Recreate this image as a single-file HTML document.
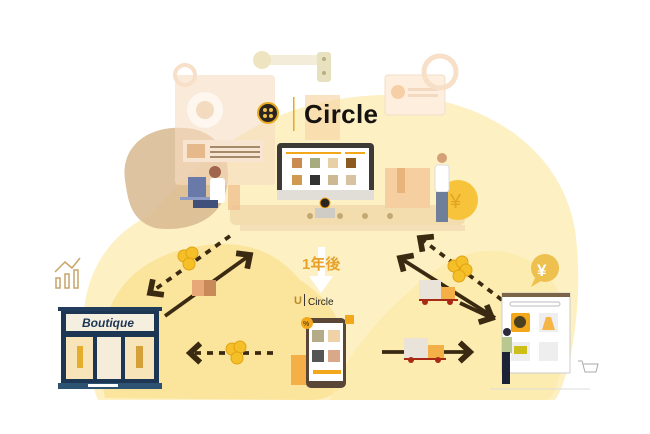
<!DOCTYPE html>
<html><head><meta charset="utf-8"><style>
html,body{margin:0;padding:0;background:#fff;width:650px;height:434px;overflow:hidden}
svg{display:block}
text{font-family:"Liberation Sans","Noto Sans CJK JP",sans-serif}
</style></head><body>
<svg width="650" height="434" viewBox="0 0 650 434" xmlns="http://www.w3.org/2000/svg">
<defs>
<marker id="ah" markerWidth="6" markerHeight="6" refX="3.2" refY="3" orient="auto" markerUnits="strokeWidth"><path d="M0.5,0.5 L3.2,3 L0.5,5.5" fill="none" stroke="#3b2a12" stroke-width="1.5"/></marker>
</defs>
<path d="M98,400 C70,330 78,250 150,215 C200,160 260,100 380,95 C470,92 560,140 575,230 C585,300 570,380 555,400 Z" fill="#fdf0c2"/>
<path d="M105,398 C90,330 110,270 180,250 C240,235 275,250 300,280 C330,300 345,320 345,360 C350,390 330,400 310,400 Z" fill="#fbe49c"/>
<path d="M330,400 C340,360 390,300 450,260 C520,230 575,280 565,340 C560,380 555,400 545,400 Z" fill="#fce9a8" opacity="0.7"/>
<path d="M125,180 C120,145 150,125 185,128 C220,130 235,160 225,195 C215,225 180,232 155,228 C130,220 128,200 125,180 Z" fill="#d8b88f" opacity="0.85"/>
<rect x="175" y="75" width="100" height="110" rx="4" fill="#f6dcc0" opacity="0.6"/>
<circle cx="205" cy="110" r="18" fill="#fff" opacity="0.6"/>
<circle cx="205" cy="110" r="9" fill="#f3dbc0"/>
<rect x="183" y="140" width="80" height="22" fill="#f7e5d2"/>
<rect x="187" y="144" width="18" height="14" fill="#e6b98a"/>
<rect x="210" y="146" width="50" height="2" fill="#a58a6a"/><rect x="210" y="151" width="50" height="2" fill="#a58a6a"/><rect x="210" y="156" width="50" height="2" fill="#a58a6a"/>
<rect x="385" y="75" width="60" height="40" rx="3" fill="#fdeedd" stroke="#f2dfca"/>
<circle cx="398" cy="92" r="7" fill="#f7cfa6"/>
<rect x="408" y="88" width="30" height="3" fill="#f3d9bf"/><rect x="408" y="94" width="30" height="3" fill="#f3d9bf"/>
<circle cx="440" cy="72" r="16" fill="none" stroke="#f7dfc8" stroke-width="5"/>
<circle cx="185" cy="75" r="10" fill="none" stroke="#f7dfc8" stroke-width="4"/>
<rect x="255" y="55" width="75" height="10" fill="#f3ecd8"/>
<circle cx="262" cy="60" r="9" fill="#efe4c0"/>
<rect x="317" y="52" width="14" height="30" rx="3" fill="#e8e1c0"/>
<circle cx="324" cy="59" r="2" fill="#b8ae80"/><circle cx="324" cy="73" r="2" fill="#b8ae80"/>
<rect x="305" y="95" width="35" height="45" fill="#f6d7a8" opacity="0.7"/>
<rect x="230" y="205" width="235" height="20" rx="6" fill="#f3dcae"/>
<rect x="240" y="225" width="225" height="6" fill="#f4dfb8"/>
<circle cx="310" cy="216" r="3" fill="#c4a874"/><circle cx="340" cy="216" r="3" fill="#c4a874"/><circle cx="365" cy="216" r="3" fill="#c4a874"/><circle cx="390" cy="216" r="3" fill="#c4a874"/>
<rect x="385" y="168" width="45" height="40" fill="#f5cf9f"/>
<rect x="397" y="168" width="8" height="25" fill="#e8b47c"/>
<circle cx="458" cy="200" r="20" fill="#f7c33a"/>
<text x="450" y="208" font-size="20" fill="#e3a41e">¥</text>
<rect x="277" y="143" width="97" height="55" rx="4" fill="#3d3a36"/>
<rect x="282" y="148" width="87" height="42" fill="#fff"/>
<rect x="286" y="152" width="55" height="2" fill="#f3a81c"/><rect x="345" y="152" width="20" height="2" fill="#f3a81c"/>
<g>
<rect x="292" y="158" width="10" height="10" fill="#c98b52"/><rect x="310" y="158" width="10" height="10" fill="#a6ac80"/><rect x="328" y="158" width="10" height="10" fill="#e7cfa8"/><rect x="346" y="158" width="10" height="10" fill="#8d5a22"/>
<rect x="292" y="175" width="10" height="10" fill="#d19a52"/><rect x="310" y="175" width="10" height="10" fill="#333"/><rect x="328" y="175" width="10" height="10" fill="#cdb893"/><rect x="346" y="175" width="10" height="10" fill="#d7c3a2"/>
</g>
<rect x="277" y="190" width="97" height="10" fill="#e1ddd7"/>
<circle cx="325" cy="203" r="5" fill="#2a2520" stroke="#f3a81c"/>
<rect x="315" y="208" width="20" height="10" fill="#cfccc6"/>
<rect x="188" y="177" width="18" height="20" fill="#6a7aa8"/>
<rect x="180" y="197" width="45" height="3" fill="#8e9bc4"/>
<rect x="210" y="178" width="15" height="25" rx="3" fill="#fff"/>
<circle cx="215" cy="172" r="6" fill="#a0654c"/>
<rect x="193" y="200" width="25" height="8" fill="#3f517a"/>
<rect x="228" y="185" width="12" height="25" fill="#f0c090" opacity="0.8"/>
<circle cx="442" cy="158" r="5" fill="#d4a078"/>
<rect x="435" y="165" width="14" height="27" rx="3" fill="#fff" stroke="#ddd"/>
<rect x="436" y="192" width="12" height="30" fill="#6f7f99"/>
<circle cx="268" cy="113" r="10" fill="#2a2520" stroke="#e8a91b" stroke-width="2"/>
<circle cx="265" cy="110" r="2" fill="#f1c04a"/><circle cx="271" cy="110" r="2" fill="#f1c04a"/><circle cx="265" cy="116" r="2" fill="#f1c04a"/><circle cx="271" cy="116" r="2" fill="#f1c04a"/>
<rect x="293" y="97" width="1.5" height="34" fill="#e8a91b"/>
<text x="304" y="123" font-size="26" font-weight="bold" fill="#161210" textLength="74">Circle</text>
<g stroke="#3b2a12" stroke-width="3.8" fill="none">
<line x1="230" y1="236" x2="150" y2="293" stroke-dasharray="6,6" marker-end="url(#ah)"/>
<line x1="165" y1="316" x2="250" y2="255" marker-end="url(#ah)"/>
<line x1="273" y1="353" x2="190" y2="353" stroke-dasharray="6,6" marker-end="url(#ah)"/>
<line x1="382" y1="352" x2="470" y2="352" marker-end="url(#ah)"/>
<line x1="495" y1="318" x2="400" y2="258" marker-end="url(#ah)"/>
<line x1="460" y1="303" x2="492" y2="318" marker-end="url(#ah)"/>
<line x1="502" y1="300" x2="420" y2="238" stroke-dasharray="6,6" marker-end="url(#ah)"/>
</g>
<g fill="#f5c027" stroke="#e2a214" stroke-width="1">
<circle cx="184" cy="256" r="6"/><circle cx="192" cy="253" r="6"/><circle cx="189" cy="264" r="6"/>
<circle cx="232" cy="349" r="6"/><circle cx="240" cy="347" r="6"/><circle cx="237" cy="358" r="6"/>
<circle cx="454" cy="266" r="6"/><circle cx="462" cy="262" r="6"/><circle cx="466" cy="270" r="6"/><circle cx="459" cy="276" r="6"/>
</g>
<rect x="192" y="280" width="24" height="16" fill="#e8a878"/><rect x="204" y="280" width="12" height="16" fill="#c98a5a"/>
<rect x="419" y="280" width="22" height="20" fill="#e9e3da"/><rect x="441" y="287" width="14" height="13" fill="#f4b046"/><rect x="419" y="299" width="39" height="2" fill="#a82a14"/>
<circle cx="425" cy="302" r="3" fill="#a82a14"/><circle cx="450" cy="302" r="3" fill="#a82a14"/>
<rect x="404" y="338" width="24" height="22" fill="#e9e3da"/><rect x="428" y="345" width="16" height="15" fill="#f4b046"/><rect x="404" y="358" width="42" height="2" fill="#a82a14"/>
<circle cx="411" cy="360" r="3" fill="#a82a14"/><circle cx="438" cy="360" r="3" fill="#a82a14"/>
<path d="M318,247 L325,247 L325,276 L333,276 L321,293 L309,276 L318,276 Z" fill="#fff"/>
<text x="302" y="269" font-size="15" font-weight="bold" fill="#e8a12a">1年後</text>
<text x="294" y="304" font-size="11" font-weight="bold" fill="#b88a2a">U</text>
<rect x="304" y="294" width="1" height="12" fill="#333"/>
<text x="308" y="305" font-size="10" fill="#222">Circle</text>
<rect x="291" y="355" width="18" height="30" fill="#f4b046"/>
<rect x="306" y="318" width="40" height="70" rx="5" fill="#5a4636"/>
<rect x="309" y="323" width="34" height="58" fill="#fff"/>
<rect x="312" y="330" width="12" height="12" fill="#b6ab88"/><rect x="328" y="330" width="12" height="12" fill="#f0d2a8"/>
<rect x="312" y="350" width="12" height="12" fill="#555"/><rect x="328" y="350" width="12" height="12" fill="#d8a888"/>
<rect x="313" y="370" width="28" height="4" fill="#f3a81c"/>
<circle cx="307" cy="323" r="6" fill="#f3a81c"/><text x="303" y="326" font-size="7" fill="#3a2a10">%</text>
<rect x="345" y="315" width="9" height="9" fill="#f3a81c"/>
<rect x="61" y="309" width="98" height="78" fill="#1d3654"/>
<rect x="58" y="307" width="104" height="4" fill="#223d5c"/>
<rect x="66" y="314" width="88" height="17" fill="#f5efe0"/>
<text x="82" y="327" font-size="12" font-style="italic" font-weight="bold" fill="#1d3654" font-family="Liberation Serif,serif">Boutique</text>
<rect x="66" y="337" width="27" height="42" fill="#f7e4b8"/><rect x="97" y="337" width="24" height="42" fill="#f5edda"/><rect x="125" y="337" width="29" height="42" fill="#f7e4b8"/>
<rect x="77" y="346" width="6" height="22" fill="#e4ae2c"/><rect x="136" y="346" width="7" height="22" fill="#d59f3a"/>
<rect x="58" y="383" width="104" height="6" fill="#2d5272"/>
<rect x="88" y="384" width="30" height="3" fill="#fff"/>
<g stroke="#c8a46a" fill="none" stroke-width="1.5"><rect x="56" y="278" width="4" height="10"/><rect x="65" y="274" width="4" height="14"/><rect x="74" y="270" width="4" height="18"/><path d="M55,272 L65,262 L72,268 L80,258"/></g>
<circle cx="545" cy="268" r="14" fill="#eec04e"/><path d="M535,278 L531,287 L541,281 Z" fill="#eec04e"/>
<text x="537" y="276" font-size="17" font-weight="bold" fill="#fff">¥</text>
<rect x="502" y="293" width="68" height="80" fill="#fff" stroke="#ccc"/>
<rect x="502" y="293" width="68" height="4" fill="#7a6548"/>
<rect x="510" y="302" width="50" height="4" rx="2" fill="#fff" stroke="#bbb"/>
<rect x="511" y="313" width="19" height="19" rx="2" fill="#f3a81c"/><circle cx="520" cy="322" r="6" fill="#4a4020"/>
<rect x="539" y="313" width="19" height="19" fill="#eee"/><path d="M546,317 L551,317 L555,330 L542,330 Z" fill="#f5b547"/>
<rect x="511" y="342" width="19" height="19" fill="#eee"/><rect x="514" y="346" width="13" height="8" fill="#cdbf18"/>
<rect x="539" y="342" width="19" height="19" fill="#eee"/>
<circle cx="507" cy="332" r="4" fill="#2a2a3a"/>
<rect x="502" y="337" width="10" height="16" fill="#b8c890"/>
<rect x="502" y="352" width="8" height="32" fill="#1e2236"/>
<line x1="490" y1="389" x2="590" y2="389" stroke="#ddd"/>
<path d="M578,361 L582,361 L585,372 L596,372 L598,364 L583,364" fill="none" stroke="#aaa" stroke-width="1"/>
</svg>
</body></html>
